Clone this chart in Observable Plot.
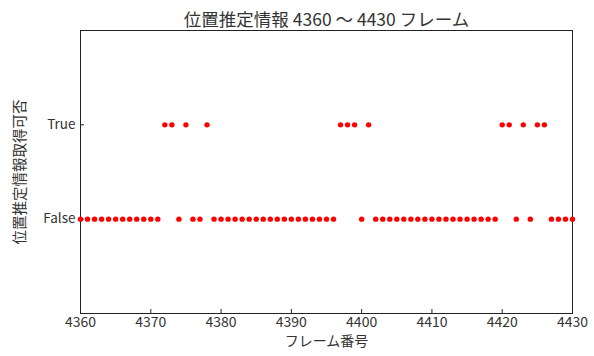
<!DOCTYPE html>
<html>
<head>
<meta charset="utf-8">
<script src="https://cdn.jsdelivr.net/npm/d3@7"></script>
<script src="https://cdn.jsdelivr.net/npm/@observablehq/plot@0.6"></script>
<style>
  html, body { margin: 0; padding: 0; background: #fff; }
  #chart svg { display: block; }
</style>
</head>
<body>
<div id="chart"></div>
<script>
// Frame numbers and whether position estimation succeeded for each
const frames = [
  4360, 4361, 4362, 4363, 4364, 4365, 4366, 4367, 4368, 4369,
  4370, 4371, 4372, 4373, 4374, 4375, 4376, 4377, 4378, 4379,
  4380, 4381, 4382, 4383, 4384, 4385, 4386, 4387, 4388, 4389,
  4390, 4391, 4392, 4393, 4394, 4395, 4396, 4397, 4398, 4399,
  4400, 4401, 4402, 4403, 4404, 4405, 4406, 4407, 4408, 4409,
  4410, 4411, 4412, 4413, 4414, 4415, 4416, 4417, 4418, 4419,
  4420, 4421, 4422, 4423, 4424, 4425, 4426, 4427, 4428, 4429,
  4430
];
const acquired = [
  false, false, false, false, false, false, false, false, false, false,
  false, false, true,  true,  false, true,  false, false, true,  false,
  false, false, false, false, false, false, false, false, false, false,
  false, false, false, false, false, false, false, true,  true,  true,
  false, true,  false, false, false, false, false, false, false, false,
  false, false, false, false, false, false, false, false, false, false,
  true,  true,  false, true,  false, true,  true,  false, false, false,
  false
];
const xTicks = [4360, 4370, 4380, 4390, 4400, 4410, 4420, 4430];
const yTicks = [0, 1];
const yTickLabels = ["False", "True"];

const rows = frames.map((f, i) => ({frame: f, ok: acquired[i] ? 1 : 0}));

const font = "'Noto Sans CJK JP', 'Noto Sans', sans-serif";

const chart = Plot.plot({
  width: 594,
  height: 356,
  marginLeft: 80,
  marginRight: 22,
  marginTop: 30,
  marginBottom: 43,
  style: {fontFamily: font, fontSize: "13px", color: "#333", background: "#fff"},
  x: {domain: [4360, 4430]},
  y: {domain: [-1, 2]},
  marks: [
    Plot.frame({stroke: "#222", strokeWidth: 1}),
    Plot.axisX({
      ticks: xTicks, tickSize: -4, tickPadding: 8, tickFormat: d => String(d),
      fontSize: 14, label: null, stroke: "#222"
    }),
    Plot.axisY({
      ticks: yTicks, tickSize: -4, tickPadding: 9,
      tickFormat: d => yTickLabels[d], fontSize: 13.5, label: null, stroke: "#222"
    }),
    Plot.dot(rows, {x: "frame", y: "ok", r: 2.7, fill: "red", stroke: null}),
    Plot.text(["位置推定情報 4360 ～ 4430 フレーム"], {
      frameAnchor: "top", dy: -17, fontSize: 17.5, fill: "#333"
    }),
    Plot.text(["フレーム番号"], {
      frameAnchor: "bottom", dy: 32, fontSize: 14, fill: "#333"
    }),
    Plot.text(["位置推定情報取得可否"], {
      frameAnchor: "left", textAnchor: "middle", dx: -60, rotate: -90,
      fontSize: 14.5, fill: "#333"
    })
  ]
});

document.getElementById("chart").appendChild(chart);
</script>
</body>
</html>
